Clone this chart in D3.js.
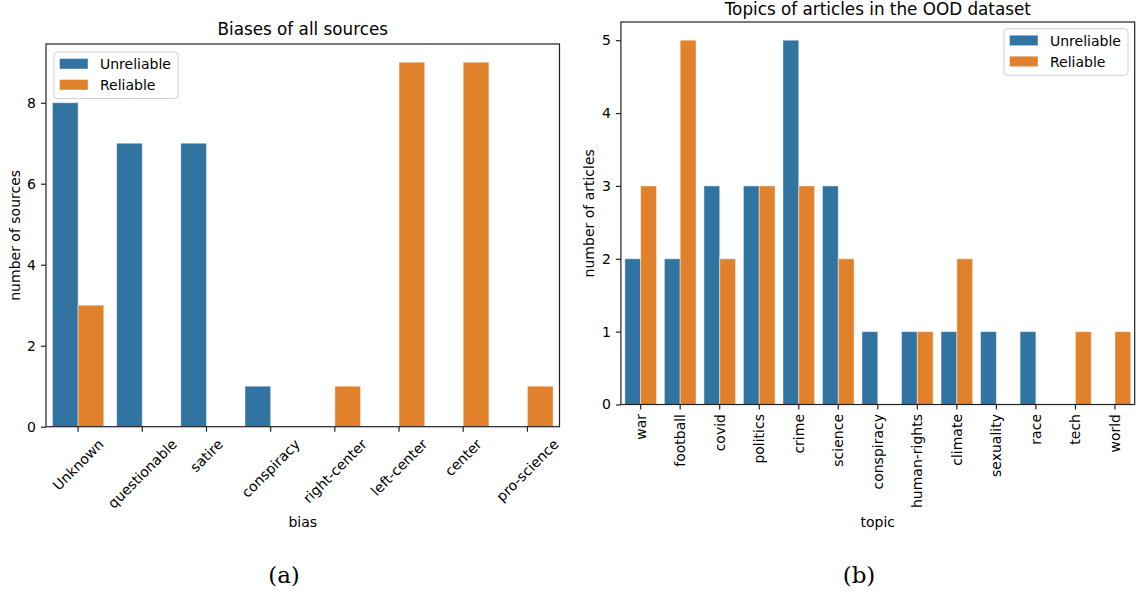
<!DOCTYPE html>
<html><head><meta charset="utf-8">
<script src="https://cdn.jsdelivr.net/npm/d3@7"></script>
<style>
html,body{margin:0;padding:0;background:#fff;}
text{font-family:"DejaVu Sans",sans-serif;fill:#000;}
</style></head>
<body>
<svg id="c" width="1138" height="591"></svg>
<script>
const hues = ["Unreliable","Reliable"];
const colors = ["#3274a1","#e1812c"];

const biasCats = ["Unknown","questionable","satire","conspiracy","right-center","left-center","center","pro-science"];
const biasUnreliable = [8,7,7,1,0,0,0,0];
const biasReliable = [3,0,0,0,1,9,9,1];
const biasTicks = [0,2,4,6,8];

const topicCats = ["war","football","covid","politics","crime","science","conspiracy","human-rights","climate","sexuality","race","tech","world"];
const topicUnreliable = [2,2,3,3,5,3,1,1,1,1,1,0,0];
const topicReliable = [3,5,2,3,3,2,0,1,2,0,0,1,1];
const topicTicks = [0,1,2,3,4,5];

const svg = d3.select("#c");

function panel(o){
  const g = svg.append("g");
  const x = d3.scaleBand().domain(o.cats).range([o.x0,o.x1]).paddingInner(0).paddingOuter(0);
  const y = d3.scaleLinear().domain([0,o.ymax*1.05]).range([o.y0,o.y1]);
  const step = x.bandwidth();
  const series=[o.u,o.r];
  series.forEach((vals,si)=>{
    g.selectAll(null).data(o.cats.map((c,i)=>({c,v:vals[i]})).filter(d=>d.v>0)).enter().append("rect")
      .attr("x",d=>x(d.c)+step*(0.1+0.4*si))
      .attr("width",step*0.4)
      .attr("y",d=>y(d.v))
      .attr("height",d=>y(0)-y(d.v))
      .attr("fill",colors[si])
      .attr("stroke","rgba(255,255,255,0.45)")
      .attr("stroke-width",1);
  });
  g.append("rect").attr("x",o.x0).attr("y",o.y1).attr("width",o.x1-o.x0).attr("height",o.y0-o.y1)
    .attr("fill","none").attr("stroke","#222").attr("stroke-width",1.2);
  const ya = g.append("g").attr("transform",`translate(${o.x0},0)`)
    .call(d3.axisLeft(y).tickValues(o.yticks).tickFormat(d3.format("d")).tickSize(5).tickPadding(5));
  ya.select(".domain").remove();
  ya.selectAll("text").style("font-size","14px").style("font-family","DejaVu Sans");
  ya.selectAll("line").attr("stroke","#222").attr("stroke-width",1.2);
  const xa = g.append("g").attr("transform",`translate(0,${o.y0})`)
    .call(d3.axisBottom(x).tickSize(5).tickFormat(""));
  xa.select(".domain").remove();
  xa.selectAll("line").attr("stroke","#222").attr("stroke-width",1.2);
  const lab = g.append("g");
  o.cats.forEach(c=>{
    const cx = x(c)+step/2;
    const t = lab.append("text").text(c).style("font-size","14px");
    if(o.rot===45){
      const w = t.node().getComputedTextLength();
      const h = 16;
      const bb = (w+h)/Math.SQRT2;
      t.attr("text-anchor","middle").attr("dominant-baseline","central")
       .attr("transform",`translate(${cx},${o.labTop+bb/2}) rotate(-45)`);
    } else {
      t.attr("text-anchor","end").attr("dominant-baseline","central")
       .attr("transform",`translate(${cx},${o.labTop}) rotate(-90)`);
    }
  });
  g.append("text").attr("x",(o.x0+o.x1)/2).attr("y",o.titleY).attr("text-anchor","middle")
    .style("font-size","16.8px").text(o.title);
  g.append("text").attr("x",(o.x0+o.x1)/2).attr("y",o.xlabY).attr("text-anchor","middle")
    .style("font-size","14px").text(o.xlab);
  g.append("text").attr("transform",`translate(${o.ylabX},${(o.y0+o.y1)/2}) rotate(-90)`)
    .attr("text-anchor","middle").attr("dominant-baseline","central")
    .style("font-size","14px").text(o.ylab);
  const lg = g.append("g").attr("transform",`translate(${o.legX},${o.legY})`);
  lg.append("rect").attr("width",124).attr("height",46.5).attr("rx",3)
    .attr("fill","rgba(255,255,255,0.8)").attr("stroke","#d0d0d0").attr("stroke-width",1);
  hues.forEach((h,i)=>{
    lg.append("rect").attr("x",5.5).attr("y",6.5+i*21).attr("width",28.5).attr("height",10.5)
      .attr("fill",colors[i]).attr("stroke","rgba(255,255,255,0.45)");
    lg.append("text").attr("x",46).attr("y",12+i*21).attr("dominant-baseline","central")
      .style("font-size","14px").text(h);
  });
  svg.append("text").attr("x",o.capX).attr("y",583).attr("text-anchor","middle")
    .style("font-family","'DejaVu Serif','Liberation Serif',serif").style("font-size","23px").text(o.cap);
}

panel({cats:biasCats,u:biasUnreliable,r:biasReliable,ymax:9,yticks:biasTicks,
  x0:46,x1:559.5,y0:426.7,y1:44,rot:45,labTop:436,
  title:"Biases of all sources",titleY:35,xlab:"bias",xlabY:527,ylab:"number of sources",ylabX:14.5,
  legX:54,legY:52,cap:"(a)",capX:284});
panel({cats:topicCats,u:topicUnreliable,r:topicReliable,ymax:5,yticks:topicTicks,
  x0:620.9,x1:1134.7,y0:404.5,y1:22,rot:90,labTop:414,
  title:"Topics of articles in the OOD dataset",titleY:15,xlab:"topic",xlabY:527,ylab:"number of articles",ylabX:588.5,
  legX:1004,legY:28.7,cap:"(b)",capX:859});
</script>
</body></html>
